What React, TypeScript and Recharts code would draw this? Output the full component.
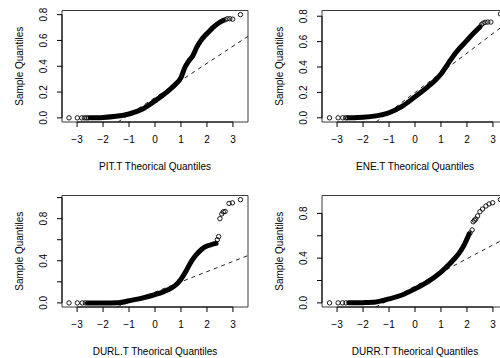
import { ComposedChart, Line, Scatter, XAxis, YAxis, ReferenceLine, ReferenceArea } from "recharts";

const FONT = "'Liberation Sans', Arial, Helvetica, sans-serif";

const theoTicks = [-3, -2, -1, 0, 1, 2, 3];
const theoRange: [number, number] = [-3.58, 3.58];

// PIT.T  (dense band of points, separated points, qqline end points)
const pitBand = [[-2.5, 0], [-2.2, 0.001], [-2.0, 0.003], [-1.5, 0.012], [-1.0, 0.03], [-0.5, 0.066], [0, 0.132], [0.3, 0.175], [0.6, 0.225], [0.8, 0.262], [1.0, 0.312], [1.15, 0.39], [1.3, 0.44], [1.45, 0.48], [1.6, 0.545], [1.75, 0.595], [1.9, 0.632], [2.05, 0.663], [2.25, 0.703], [2.45, 0.735], [2.62, 0.755]];
const pitPoints = [[-3.31, 0], [-2.99, 0], [-2.82, 0], [-2.72, 0], [-2.64, 0], [-2.57, 0], [2.7, 0.76], [2.78, 0.768], [2.88, 0.768], [2.99, 0.765], [3.29, 0.8]];
const pitLine = [[-1.425, -0.032], [3.58, 0.632]];

// ENE.T
const eneBand = [[-2.55, 0], [-2.2, 0.002], [-2.0, 0.004], [-1.5, 0.015], [-1.0, 0.04], [-0.5, 0.09], [0, 0.165], [0.5, 0.245], [0.8, 0.3], [1.0, 0.345], [1.3, 0.435], [1.6, 0.52], [2.0, 0.61], [2.3, 0.675], [2.5, 0.715]];
const enePoints = [[-3.29, 0], [-2.96, 0], [-2.78, 0], [-2.67, 0], [-2.6, 0], [2.56, 0.733], [2.62, 0.745], [2.7, 0.752], [2.8, 0.754], [2.92, 0.754], [3.29, 0.818]];
const eneLine = [[-1.497, -0.033], [3.58, 0.754]];

// DURL.T
const durlBand = [[-2.6, 0], [-2.0, 0], [-1.4, 0.002], [-1.0, 0.02], [-0.5, 0.045], [0, 0.078], [0.5, 0.125], [0.8, 0.17], [1.0, 0.225], [1.2, 0.305], [1.4, 0.395], [1.6, 0.46], [1.8, 0.51], [2.0, 0.54], [2.2, 0.555], [2.35, 0.565]];
const durlPoints = [[-3.31, 0], [-2.99, 0], [-2.8, 0], [-2.68, 0], [2.4, 0.6], [2.45, 0.63], [2.5, 0.8], [2.57, 0.845], [2.63, 0.865], [2.7, 0.868], [2.85, 0.945], [2.98, 0.95], [3.29, 0.98]];
const durlLine = [[-1.464, -0.039], [3.58, 0.45]];

// DURR.T
const durrBand = [[-2.55, 0], [-2.0, 0.002], [-1.5, 0.008], [-1.0, 0.035], [-0.5, 0.07], [0, 0.125], [0.5, 0.19], [1.0, 0.275], [1.3, 0.34], [1.5, 0.39], [1.7, 0.445], [1.9, 0.52], [2.0, 0.57], [2.08, 0.615]];
const durrPoints = [[-3.29, 0], [-2.96, 0], [-2.79, 0], [-2.66, 0], [2.12, 0.625], [2.2, 0.652], [2.24, 0.725], [2.29, 0.738], [2.34, 0.75], [2.41, 0.777], [2.5, 0.815], [2.6, 0.839], [2.73, 0.866], [2.85, 0.884], [2.99, 0.895], [3.29, 0.923]];
const durrLine = [[-1.512, -0.037], [3.58, 0.589]];

const yTicksTop = [0, 0.2, 0.4, 0.6, 0.8];
const yTicksDurl = [0, 0.2, 0.4, 0.6, 0.8, 1.0];
const yTicksDurr = [0, 0.2, 0.4, 0.6, 0.8];
const yLabelsAll = [0, 0.2, 0.4, 0.6, 0.8];
const yLabelsSparse = [0, 0.4, 0.8];

const toPts = (arr: number[][]) => arr.map(([x, y]) => ({ x, y }));

const panels = [
  { title: "PIT.T Theorical Quantiles", band: pitBand, points: pitPoints, qq: pitLine, yDomain: [-0.032, 0.832], yTicks: yTicksTop, yLabels: yLabelsAll, col: 0, row: 0 },
  { title: "ENE.T Theorical Quantiles", band: eneBand, points: enePoints, qq: eneLine, yDomain: [-0.033, 0.845], yTicks: yTicksTop, yLabels: yLabelsAll, col: 1, row: 0 },
  { title: "DURL.T Theorical Quantiles", band: durlBand, points: durlPoints, qq: durlLine, yDomain: [-0.039, 1.02], yTicks: yTicksDurl, yLabels: yLabelsSparse, col: 0, row: 1 },
  { title: "DURR.T Theorical Quantiles", band: durrBand, points: durrPoints, qq: durrLine, yDomain: [-0.037, 0.96], yTicks: yTicksDurr, yLabels: yLabelsSparse, col: 1, row: 1 },
];

const W = 260;
const H = 185;

function XTick(props: any) {
  const { x, y, payload } = props;
  const v = payload.value as number;
  const s = v < 0 ? "\u2212" + Math.abs(v) : String(v);
  return (
    <text x={x} y={y} dy={13.5} textAnchor="middle" fontSize={10} fontFamily={FONT} fill="#000">
      {s}
    </text>
  );
}

function makeYTick(labels: number[]) {
  return (props: any) => {
    const { x, y, payload } = props;
    const v = payload.value as number;
    if (!labels.some((l) => Math.abs(l - v) < 1e-9)) return <g />;
    const cx = x - 11.5;
    return (
      <text x={cx} y={y} dy="0.36em" transform={`rotate(-90 ${cx} ${y})`} textAnchor="middle" fontSize={10} fontFamily={FONT} fill="#000">
        {v.toFixed(1)}
      </text>
    );
  };
}

function xTitle(text: string) {
  return (props: any) => {
    const vb = props.viewBox ?? { x: 62, y: 122, width: 186, height: 30 };
    return (
      <text x={vb.x + vb.width / 2} y={vb.y + 44} dy="0.36em" textAnchor="middle" fontSize={10} fontFamily={FONT} fill="#000">
        {text}
      </text>
    );
  };
}

function yTitle(props: any) {
  const vb = props.viewBox ?? { x: 2, y: 10.5, width: 60, height: 111.5 };
  const cx = vb.x + 17;
  const cy = vb.y + vb.height / 2;
  return (
    <text x={cx} y={cy} dy="0.36em" transform={`rotate(-90 ${cx} ${cy})`} textAnchor="middle" fontSize={10} fontFamily={FONT} fill="#000">
      Sample Quantiles
    </text>
  );
}

const openCircle = (props: any) => (
  <circle cx={props.cx} cy={props.cy} r={2.2} fill="none" stroke="#000" strokeWidth={0.9} />
);

function QQPanel({ p }: { p: (typeof panels)[number] }) {
  const [y0, y1] = p.yDomain;
  const yTop = p.yTicks[p.yTicks.length - 1];
  return (
    <div style={{ position: "absolute", left: p.col * W, top: p.row * H, width: W, height: H }}>
      <ComposedChart width={W} height={H} margin={{ top: 10.5, right: 12, bottom: 33, left: 2 }}>
        <XAxis
          type="number"
          dataKey="x"
          domain={theoRange}
          allowDataOverflow
          ticks={theoTicks}
          interval={0}
          tick={XTick}
          tickSize={5}
          tickLine={{ stroke: "#000" }}
          axisLine={false}
          height={30}
          label={{ value: p.title, content: xTitle(p.title) }}
        />
        <YAxis
          type="number"
          dataKey="y"
          domain={[y0, y1]}
          allowDataOverflow
          ticks={p.yTicks}
          interval={0}
          tick={makeYTick(p.yLabels)}
          tickSize={5}
          tickLine={{ stroke: "#000" }}
          axisLine={false}
          width={60}
          label={{ value: "Sample Quantiles", content: yTitle }}
        />
        <ReferenceArea x1={theoRange[0]} x2={theoRange[1]} y1={y0} y2={y1} fill="none" stroke="#3a3a3a" strokeWidth={1} ifOverflow="visible" />
        <ReferenceLine segment={[{ x: -3, y: y0 }, { x: 3, y: y0 }]} stroke="#000" ifOverflow="visible" />
        <ReferenceLine segment={[{ x: theoRange[0], y: 0 }, { x: theoRange[0], y: yTop }]} stroke="#000" ifOverflow="visible" />
        <Line data={toPts(p.qq)} dataKey="y" type="linear" stroke="#222" strokeWidth={1} strokeDasharray="4 4" dot={false} isAnimationActive={false} />
        <Line data={toPts(p.band)} dataKey="y" type="monotone" stroke="#000" strokeWidth={5} strokeLinecap="round" strokeLinejoin="round" dot={false} isAnimationActive={false} />
        <Scatter data={toPts(p.points)} dataKey="y" shape={openCircle} isAnimationActive={false} />
      </ComposedChart>
    </div>
  );
}

export default function App() {
  return (
    <div style={{ position: "absolute", left: 0, top: 0, width: 500, height: 358, overflow: "hidden", background: "#fff" }}>
      {panels.map((p) => (
        <QQPanel key={p.title} p={p} />
      ))}
    </div>
  );
}
